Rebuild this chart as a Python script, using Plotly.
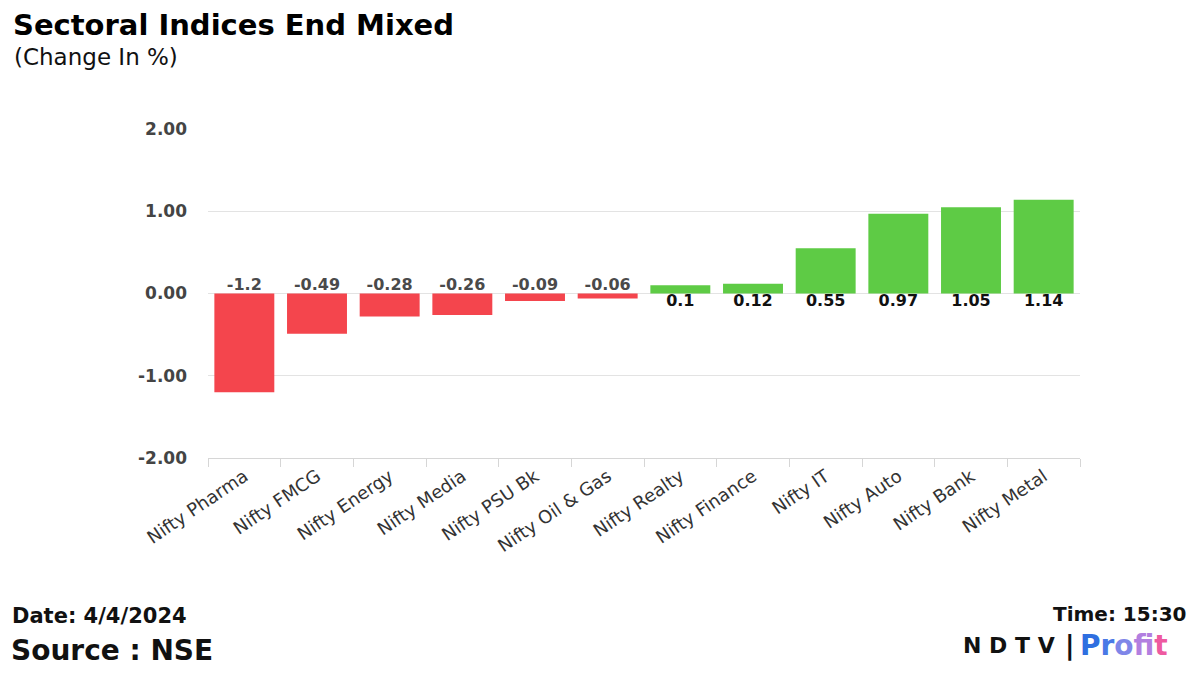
import plotly.graph_objects as go

categories = ["Nifty Pharma", "Nifty FMCG", "Nifty Energy", "Nifty Media", "Nifty PSU Bk",
              "Nifty Oil & Gas", "Nifty Realty", "Nifty Finance", "Nifty IT", "Nifty Auto",
              "Nifty Bank", "Nifty Metal"]
values = [-1.2, -0.49, -0.28, -0.26, -0.09, -0.06, 0.1, 0.12, 0.55, 0.97, 1.05, 1.14]
y_ticks = [-2, -1, 0, 1, 2]
y_tick_labels = ["-2.00", "-1.00", "0.00", "1.00", "2.00"]

RED = "#F4454D"
GREEN = "#5ECB45"
colors = [RED if v < 0 else GREEN for v in values]

W, H = 1200, 675
ML, MR, MT, MB = 208, 120, 129, 217
PW, PH = W - ML - MR, H - MT - MB

fig = go.Figure()
fig.add_trace(go.Bar(x=categories, y=values, marker=dict(color=colors, line=dict(width=0)),
                     hoverinfo="x+y", showlegend=False))

neg_x = [c for c, v in zip(categories, values) if v < 0]
neg_t = [f"{v:g}" for v in values if v < 0]
pos_x = [c for c, v in zip(categories, values) if v >= 0]
pos_t = [f"{v:g}" for v in values if v >= 0]

fig.add_trace(go.Scatter(x=neg_x, y=[0] * len(neg_x), mode="text", text=neg_t,
                         textposition="top center", showlegend=False, hoverinfo="skip",
                         textfont=dict(family="DejaVu Sans", size=16, color="#4a4a4a", weight="bold")))
fig.add_trace(go.Scatter(x=pos_x, y=[0] * len(pos_x), mode="text", text=pos_t,
                         textposition="bottom center", showlegend=False, hoverinfo="skip",
                         textfont=dict(family="DejaVu Sans", size=16, color="#111111", weight="bold")))


def ann(text, px, py, size, anchor="left", family="DejaVu Sans", color="#111111"):
    return dict(text=text, x=(px - ML) / PW, y=1 - (py - MT) / PH, xref="paper", yref="paper",
                showarrow=False, xanchor=anchor, yanchor="middle",
                font=dict(family=family, size=size, color=color))


profit_cols = ["#2f6fe0", "#4a79e6", "#7f86e8", "#b27fe0", "#d96fc4", "#ee5aa0"]
profit = "".join(f"<span style='color:{c}'><b>{ch}</b></span>" for c, ch in zip(profit_cols, "Profit"))

annotations = [
    ann("<b>Sectoral Indices End Mixed</b>", 11, 25, 29, color="#000000"),
    ann("(Change In %)", 12, 57, 23),
    ann("<b>Date: 4/4/2024</b>", 10, 616, 21),
    ann("<b>Source : NSE</b>", 9, 650, 28),
    ann("<b>Time: 15:30</b>", 1189, 614, 20, anchor="right"),
    ann("<b>N D T V</b>", 1057, 645, 22, anchor="right"),
    ann("<b>|</b>", 1070, 645, 26, anchor="center"),
    ann(profit, 1078, 645, 28),
]

fig.update_layout(
    width=W, height=H,
    paper_bgcolor="white", plot_bgcolor="white",
    margin=dict(l=ML, r=MR, t=MT, b=MB, autoexpand=False),
    bargap=0.175,
    xaxis=dict(
        type="category", tickangle=-34, range=[-0.5, len(categories) - 0.5],
        tickfont=dict(family="DejaVu Sans", size=18, color="#333333"),
        showline=True, linecolor="#d6d6d6", linewidth=1,
        ticks="outside", tickson="boundaries", ticklen=8, tickcolor="#d6d6d6",
        showgrid=False, fixedrange=True,
    ),
    yaxis=dict(
        range=[-2, 2], tickvals=y_ticks, ticktext=y_tick_labels,
        tickfont=dict(family="DejaVu Sans", size=17, color="#444444", weight="bold"),
        showgrid=True, gridcolor="#e3e3e3", gridwidth=1,
        zeroline=False, ticklabelstandoff=20, showline=False,
    ),
    annotations=annotations,
)

fig.write_html("out.html", config={"displayModeBar": False},
               post_script="document.body.style.margin='0';document.body.style.padding='0';")
